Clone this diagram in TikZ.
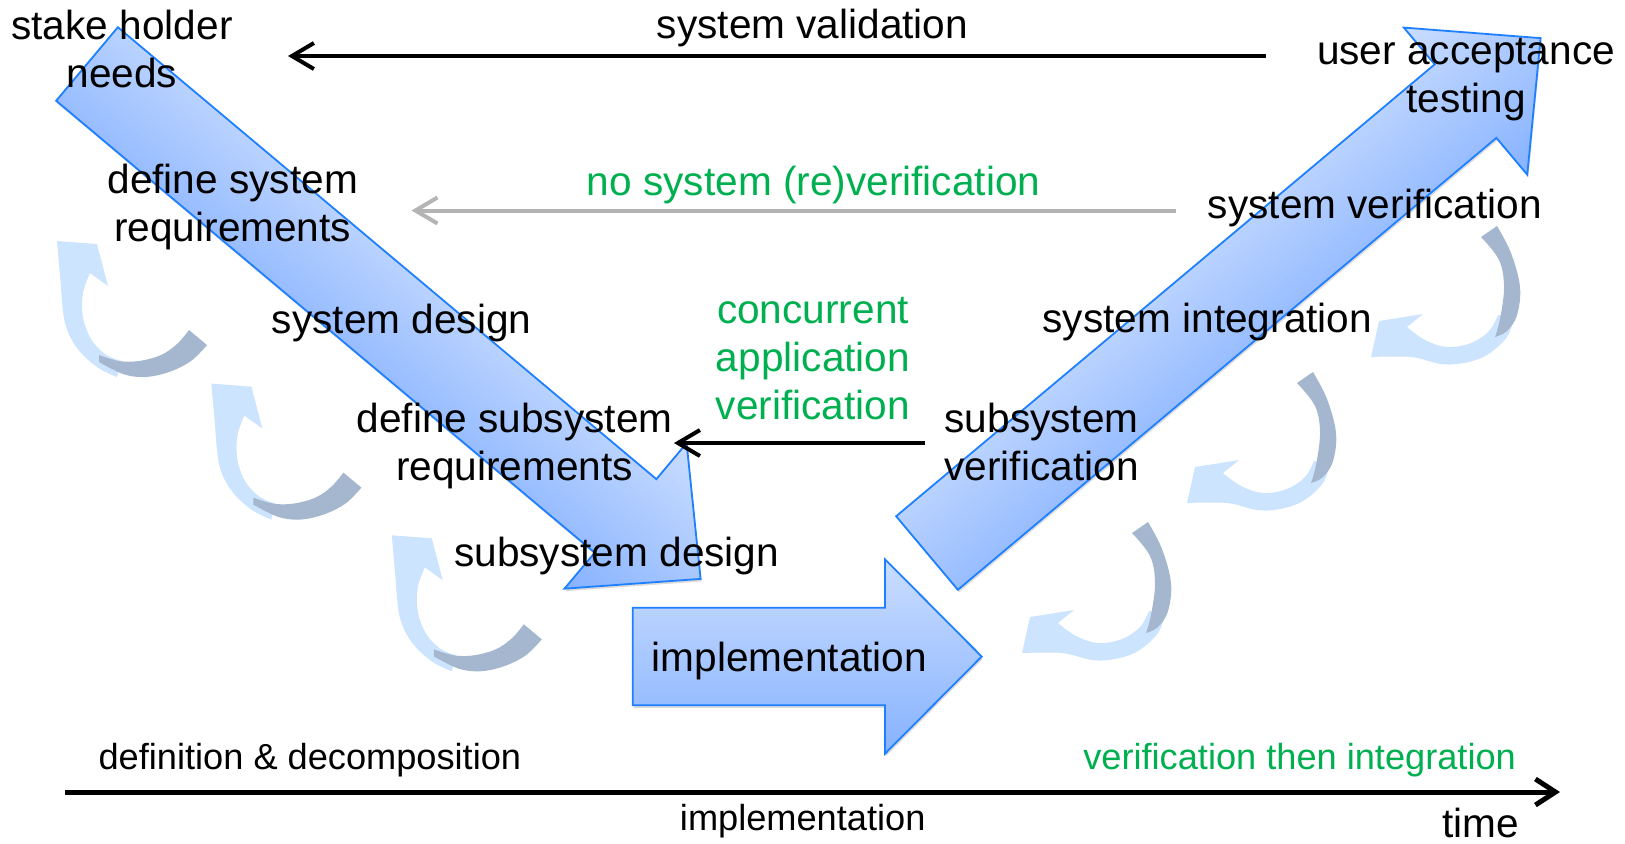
\documentclass[tikz,border=0pt]{standalone}
\usepackage{fontspec}
\setmainfont{Liberation Sans}
\usetikzlibrary{arrows.meta}
\definecolor{edgeblue}{RGB}{30,128,255}
\definecolor{lightblue}{RGB}{202,221,255}
\definecolor{midblue}{RGB}{135,178,255}
\definecolor{loopfront}{RGB}{204,228,253}
\definecolor{loopback}{RGB}{164,183,206}
\definecolor{okgreen}{RGB}{0,176,80}
\definecolor{faint}{RGB}{180,180,180}

% curved feedback arrow, left column (tip at the origin)
\newcommand{\loopleft}[1]{%
  \begin{scope}[shift={#1}]
    \fill[loopfront] (0,0) -- (40,3) -- (51,45) -- (33,32)
      -- plot[smooth,tension=0.6] coordinates {(33,32) (26,52) (26,76) (34,98) (48,113) (64,120)}
      -- plot[smooth,tension=0.6] coordinates {(60,136) (40,126) (20,107) (8,82) (4,46)}
      -- cycle;
    \fill[loopback] plot[smooth,tension=0.6] coordinates {(42,114) (62,120) (82,120) (104,114) (120,103) (132,89)}
      -- (150,104)
      -- plot[smooth,tension=0.6] coordinates {(150,104) (134,120) (112,131) (88,136) (66,133) (42,121)}
      -- cycle;
  \end{scope}}

% curved feedback arrow, right column (tip at the origin)
\newcommand{\loopright}[1]{%
  \begin{scope}[shift={#1}]
    \fill[loopfront] (0,0) -- (8,-36) -- (52,-43) -- (36,-30)
      -- plot[smooth,tension=0.6] coordinates {(36,-30) (54,-17) (76,-10) (100,-14) (118,-26) (127,-42)}
      -- plot[smooth,tension=0.6] coordinates {(143,-40) (136,-20) (116,-2) (93,6) (70,7) (40,0) (0,0)}
      -- cycle;
    \fill[loopback] (110,-120) -- (126,-131)
      -- plot[smooth,tension=0.6] coordinates {(126,-131) (140,-104) (149,-70) (146,-42) (136,-26) (124,-20)}
      -- plot[smooth,tension=0.6] coordinates {(124,-20) (129,-38) (133,-70) (128,-97) (110,-120)}
      -- cycle;
  \end{scope}}

\begin{document}
\begin{tikzpicture}[x=0.5pt,y=-0.5pt,
  lbl/.style={font=\fontsize{20.3pt}{24pt}\selectfont, inner sep=0pt, align=center, anchor=base},
  small/.style={font=\fontsize{18.1pt}{22pt}\selectfont},
  blockarrow/.style={top color=lightblue, bottom color=midblue, draw=edgeblue, line width=0.9pt, line join=miter},
  blockshadow/.style={fill=black, opacity=0.14},
  conn/.style={line width=2pt, -{Straight Barb[length=11pt,width=13pt]}},
  axis/.style={line width=2.5pt, -{Straight Barb[length=10pt,width=13pt]}}]
\useasboundingbox (0,0) rectangle (1625,843);

% feedback loops
\loopleft{(57,241)}
\loopleft{(211.4,383.6)}
\loopleft{(391.8,535.3)}
\loopright{(1371,357)}
\loopright{(1187,503)}
\loopright{(1022,653)}

% descending branch
\begin{scope}[transform canvas={shift={(87,64)},rotate=-40}]
  \fill[blockshadow,shift={(2.4,1.3)}] (0,-48) -- (703,-48) -- (703,-95) -- (801,0) -- (703,95) -- (703,48) -- (0,48) -- cycle;
  \shade[blockarrow] (0,-48) -- (703,-48) -- (703,-95) -- (801,0) -- (703,95) -- (703,48) -- (0,48) -- cycle;
\end{scope}
% ascending branch
\begin{scope}[transform canvas={shift={(927,553)},rotate=40}]
  \fill[blockshadow,shift={(-0.8,2.6)}] (0,-48) -- (703,-48) -- (703,-96) -- (801,0) -- (703,96) -- (703,48) -- (0,48) -- cycle;
  \shade[blockarrow] (0,-48) -- (703,-48) -- (703,-96) -- (801,0) -- (703,96) -- (703,48) -- (0,48) -- cycle;
\end{scope}
% implementation step
\fill[blockshadow,shift={(1,2.5)}] (632.7,607.7) -- (885,607.7) -- (885,559.3) -- (981.7,656.5)
  -- (885,753.7) -- (885,705.3) -- (632.7,705.3) -- cycle;
\shade[blockarrow] (632.7,607.7) -- (885,607.7) -- (885,559.3) -- (981.7,656.5)
  -- (885,753.7) -- (885,705.3) -- (632.7,705.3) -- cycle;

% labels (base anchor = baseline of the last line)
\node[lbl] (stake) at (122,87) {stake holder\\needs};
\node[lbl] (sysval) at (812.5,38.5) {system validation};
\node[lbl] (uat) at (1466,112.5) {user acceptance\\testing};
\node[lbl] (defsys) at (232.7,241) {define system\\requirements};
\node[lbl,text=okgreen] (noreverif) at (813.6,195) {no system (re)verification};
\node[lbl] (sysverif) at (1374.8,218) {system verification};
\node[lbl] (sysdes) at (401.6,333) {system design};
\node[lbl,text=okgreen] (concur) at (813,419.5) {concurrent\\application\\verification};
\node[lbl] (sysint) at (1207.4,332) {system integration};
\node[lbl] (defsub) at (514.6,480) {define subsystem\\requirements};
\node[lbl] (subverif) at (1041.6,480) {subsystem\\verification};
\node[lbl] (subdes) at (616.7,566) {subsystem design};
\node[lbl] (impl) at (789.5,671.7) {implementation};
\node[lbl,small] (defdec) at (309.9,769) {definition \& decomposition};
\node[lbl,small,text=okgreen] (verint) at (1299.6,769) {verification then integration};
\node[lbl,small] (implaxis) at (802.7,830) {implementation};
\node[lbl] (time) at (1480.5,837) {time};

% connectors
\coordinate (valfrom) at (1266,56);
\coordinate (valto) at (288,56);
\draw[conn] (valfrom) -- (valto);
\coordinate (revfrom) at (1176,210.5);
\coordinate (revto) at (411.5,210.5);
\draw[conn,draw=faint] (revfrom) -- (revto);
\coordinate (subfrom) at (925,443);
\coordinate (subto) at (674,443);
\draw[conn] (subfrom) -- (subto);
\coordinate (tstart) at (65,792);
\coordinate (tend) at (1560,792);
\draw[axis] (tstart) -- (tend);
\end{tikzpicture}
\end{document}
